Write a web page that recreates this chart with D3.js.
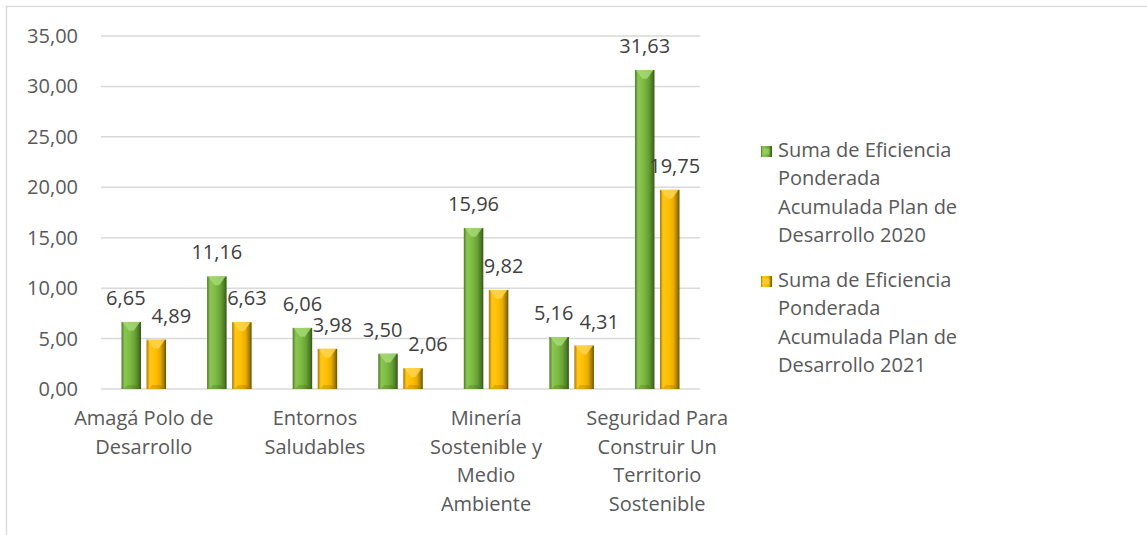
<!DOCTYPE html>
<html>
<head>
<meta charset="utf-8">
<script src="https://cdn.jsdelivr.net/npm/d3@7"></script>
<style>
  html, body { margin: 0; padding: 0; background: #fff; }
  svg { display: block; font-family: "Open Sans", sans-serif; }
</style>
</head>
<body>
<svg id="chart" width="1147" height="535"></svg>
<script>
// category names (the 2nd, 4th and 6th are not labelled in the chart)
const categories = [
  "Amagá Polo de\nDesarrollo",
  "",
  "Entornos\nSaludables",
  "",
  "Minería\nSostenible y\nMedio\nAmbiente",
  "",
  "Seguridad Para\nConstruir Un\nTerritorio\nSostenible"
];
const seriesNames = [
  "Suma de Eficiencia\nPonderada\nAcumulada Plan de\nDesarrollo 2020",
  "Suma de Eficiencia\nPonderada\nAcumulada Plan de\nDesarrollo 2021"
];
const values2020 = [6.65, 11.16, 6.06, 3.50, 15.96, 5.16, 31.63];
const values2021 = [4.89, 6.63, 3.98, 2.06, 9.82, 4.31, 19.75];
const yTicks = [0, 5, 10, 15, 20, 25, 30, 35];

const width = 1147, height = 535;
const svg = d3.select("#chart");
const fmt = v => d3.format(".2f")(v).replace(".", ",");

// outer chart border (runs off the picture on the right and bottom)
svg.append("rect")
  .attr("x", 6.5).attr("y", 6.5)
  .attr("width", 1300).attr("height", 700)
  .attr("fill", "none")
  .attr("stroke", "#d9d9d9")
  .attr("stroke-width", 1.3);

const x = d3.scaleBand()
  .domain(d3.range(categories.length))
  .range([101, 700]);

const xs = d3.scaleBand()
  .domain([0, 1])
  .range([0, x.bandwidth()])
  .paddingInner(0.22)
  .paddingOuter(0.82);

const y = d3.scaleLinear().domain([0, 35]).range([389, 36]);

// gradients for the bevelled bars
const defs = svg.append("defs");
const palettes = [
  { id: "g2020", stops: ["#4f7a27", "#8cc653", "#7cba43", "#67a035", "#4d7a25", "#36561a"],
    cap: "#a6d873" },
  { id: "g2021", stops: ["#a37a00", "#ffc61a", "#ffc000", "#e8ad00", "#a57c00", "#6b5000"],
    cap: "#ffd34d" }
];
palettes.forEach(p => {
  const g = defs.append("linearGradient").attr("id", p.id)
    .attr("x1", "0%").attr("x2", "100%").attr("y1", "0%").attr("y2", "0%");
  const offs = [0, 0.16, 0.45, 0.7, 0.88, 1];
  p.stops.forEach((c, i) => g.append("stop").attr("offset", offs[i]).attr("stop-color", c));
});

// gridlines
svg.append("g")
  .selectAll("line")
  .data(yTicks)
  .join("line")
  .attr("x1", 101).attr("x2", 700)
  .attr("y1", d => y(d)).attr("y2", d => y(d))
  .attr("stroke", "#d9d9d9")
  .attr("stroke-width", 1.5);

// y axis labels
svg.append("g")
  .selectAll("text")
  .data(yTicks)
  .join("text")
  .attr("x", 78)
  .attr("y", d => y(d) + 7)
  .attr("text-anchor", "end")
  .attr("font-size", 20)
  .attr("fill", "#595959")
  .text(d => fmt(d));

// bars
const series = [values2020, values2021];
const bw = xs.bandwidth();
series.forEach((vals, s) => {
  const p = palettes[s];
  const g = svg.append("g");
  g.selectAll("rect")
    .data(vals)
    .join("rect")
    .attr("x", (d, i) => x(i) + xs(s))
    .attr("y", d => y(d))
    .attr("width", bw)
    .attr("height", d => y(0) - y(d))
    .attr("fill", `url(#${p.id})`);
  // top bevel highlight
  g.selectAll("path.cap")
    .data(vals)
    .join("path")
    .attr("class", "cap")
    .attr("d", (d, i) => {
      const x0 = x(i) + xs(s), y0 = y(d);
      return `M${x0 + 1},${y0}L${x0 + bw - 1},${y0}L${x0 + bw * 0.62},${y0 + bw * 0.45}L${x0 + bw * 0.38},${y0 + bw * 0.45}Z`;
    })
    .attr("fill", p.cap)
    .attr("opacity", 0.85);
  // bottom bevel
  g.selectAll("path.base")
    .data(vals)
    .join("path")
    .attr("class", "base")
    .attr("d", (d, i) => {
      const x0 = x(i) + xs(s), y0 = y(0);
      return `M${x0 + 2},${y0}L${x0 + bw - 2},${y0}L${x0 + bw * 0.7},${y0 - 4}L${x0 + bw * 0.3},${y0 - 4}Z`;
    })
    .attr("fill", "#000")
    .attr("opacity", 0.12);
});

// data labels: 2020 centred on its bar, 2021 nudged right and pushed clear of its neighbour
const labels = svg.append("g")
  .attr("font-size", 20)
  .attr("fill", "#404040")
  .attr("text-anchor", "middle");
values2020.forEach((v, i) => {
  const a = labels.append("text")
    .attr("x", x(i) + xs(0) + bw / 2)
    .attr("y", y(v) - 17)
    .text(fmt(v));
  const w2 = values2021[i];
  const b = labels.append("text")
    .attr("x", x(i) + xs(1) + bw / 2 + 5)
    .attr("y", y(w2) - 17)
    .text(fmt(w2));
  const ba = a.node().getBBox(), bb = b.node().getBBox();
  const vOverlap = Math.abs((y(v) - 17) - (y(w2) - 17)) < 19;
  const gap = bb.x - (ba.x + ba.width);
  if (vOverlap && gap < 6) {
    const push = 6 - gap;
    a.attr("x", +a.attr("x") - push * 0.35);
    b.attr("x", +b.attr("x") + push * 0.65);
  }
});

// category labels
const xl = svg.append("g");
categories.forEach((c, i) => {
  if (!c) return;
  const t = xl.append("text")
    .attr("text-anchor", "middle")
    .attr("font-size", 20)
    .attr("fill", "#595959");
  c.split("\n").forEach((line, k) => {
    t.append("tspan")
      .attr("x", x(i) + x.bandwidth() / 2)
      .attr("y", 425 + k * 28.5)
      .text(line);
  });
});

// legend
const legend = svg.append("g").attr("transform", "translate(761,0)");
seriesNames.forEach((name, s) => {
  const top = 157 + s * 130;
  legend.append("rect")
    .attr("x", 0).attr("y", top - 11)
    .attr("width", 11).attr("height", 11)
    .attr("fill", `url(#${palettes[s].id})`);
  legend.append("rect")
    .attr("x", 2.5).attr("y", top - 8.5)
    .attr("width", 6).attr("height", 6)
    .attr("fill", palettes[s].cap)
    .attr("opacity", 0.6);
  const t = legend.append("text")
    .attr("font-size", 20)
    .attr("fill", "#595959");
  name.split("\n").forEach((line, k) => {
    t.append("tspan")
      .attr("x", 17)
      .attr("y", top + k * 28.4)
      .text(line);
  });
});
</script>
</body>
</html>
